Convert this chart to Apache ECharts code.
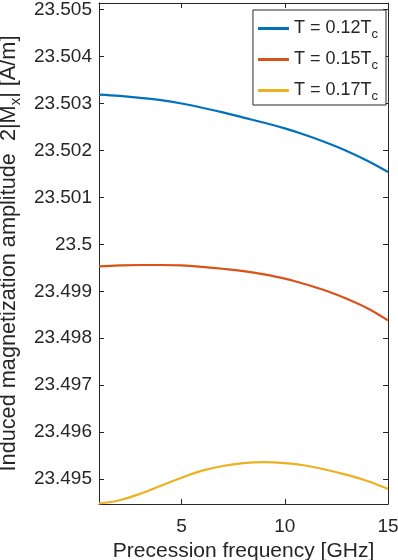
<!DOCTYPE html>
<html><head><meta charset="utf-8">
<script src="https://cdn.jsdelivr.net/npm/echarts@6/dist/echarts.min.js"></script>
<style>html,body{margin:0;padding:0;background:#fff}#c{width:398px;height:560px}</style>
</head><body><div id="c"></div>
<script>
const freq = [1,2,3,4,5,6,7,8,9,10,11,12,13,14,15];
const amp012 = [23.50319,23.50316,23.50312,23.50307,23.50300,23.50291,23.50281,23.50270,23.50259,23.50247,23.50233,23.50217,23.50199,23.50178,23.50154];
const amp015 = [23.49953,23.49955,23.49956,23.49956,23.49955,23.49952,23.49948,23.49943,23.49936,23.49927,23.49915,23.49901,23.49884,23.49864,23.49838];
const amp017 = [23.49448,23.49455,23.49469,23.49486,23.49503,23.49518,23.49528,23.49534,23.49536,23.49534,23.49529,23.49520,23.49509,23.49496,23.49479];
const temps = ['0.12','0.15','0.17'];
const xTicks = [5,10,15];
const yTicks = [23.495,23.496,23.497,23.498,23.499,23.5,23.501,23.502,23.503,23.504,23.505];
const colors = ['#0072BD','#D95319','#EDB120'];
const xMin = 1, xMax = 15, yMin = 23.49447, yMax = 23.50514;

const ink = '#262626';
const font = 'Liberation Sans, Arial, Helvetica, sans-serif';
const allSeries = [amp012, amp015, amp017];

const chart = echarts.init(document.getElementById('c'), null, {renderer:'canvas'});
const axisCommon = {
  axisLine:{show:true, lineStyle:{color:ink, width:1}},
  splitLine:{show:false}
};
chart.setOption({
  backgroundColor:'#fff',
  animation:false,
  grid:{left:99, right:10, top:3, bottom:56, outerBoundsMode:'none', containLabel:false},
  xAxis:[{
    type:'value', min:xMin, max:xMax, position:'bottom',
    ...axisCommon,
    axisTick:{show:true, inside:true, length:5, lineStyle:{color:ink}, customValues:xTicks},
    axisLabel:{show:true, customValues:xTicks, color:ink, fontSize:19, fontFamily:font, margin:13,
      formatter:v=>String(v)},
    name:'Precession frequency [GHz]', nameLocation:'middle', nameGap:34,
    nameTextStyle:{color:ink, fontSize:21, fontFamily:font}
  },{
    type:'value', min:xMin, max:xMax, position:'top',
    ...axisCommon,
    axisTick:{show:true, inside:true, length:5, lineStyle:{color:ink}, customValues:xTicks},
    axisLabel:{show:false}
  }],
  yAxis:[{
    type:'value', min:yMin, max:yMax, position:'left',
    ...axisCommon,
    axisTick:{show:true, inside:true, length:5, lineStyle:{color:ink}, customValues:yTicks},
    axisLabel:{show:true, customValues:yTicks, color:ink, fontSize:19, fontFamily:font, margin:7,
      formatter:v=>String(parseFloat(v.toFixed(3)))},
    name:'Induced magnetization amplitude  2|M{sub|x}| [A/m]', nameLocation:'middle', nameGap:76,
    nameTextStyle:{color:ink, fontSize:21.7, fontFamily:font,
      rich:{sub:{fontSize:15, fontFamily:font, color:ink, padding:[12,0,0,0]}}}
  },{
    type:'value', min:yMin, max:yMax, position:'right',
    ...axisCommon,
    axisTick:{show:true, inside:true, length:5, lineStyle:{color:ink}, customValues:yTicks},
    axisLabel:{show:false}
  }],
  legend:{
    orient:'vertical', right:12, top:10,
    backgroundColor:'#fff', borderColor:ink, borderWidth:1,
    padding:[6,8,2,5], itemGap:6, itemWidth:31, itemHeight:3, icon:'rect',
    textStyle:{color:ink, fontSize:18, fontFamily:font, lineHeight:24,
      rich:{sub:{fontSize:13, fontFamily:font, color:ink, lineHeight:12, padding:[12,0,0,0]}}},
    formatter:name=>name.replace('_c','{sub|c}')
  },
  series: allSeries.map((arr,i)=>({
    type:'line', name:'T = '+temps[i]+'T_c',
    data: freq.map((f,j)=>[f, arr[j]]),
    smooth:0.4, symbol:'none', showSymbol:false,
    lineStyle:{color:colors[i], width:2.2}, itemStyle:{color:colors[i]},
    xAxisIndex:0, yAxisIndex:0
  }))
});
</script></body></html>
